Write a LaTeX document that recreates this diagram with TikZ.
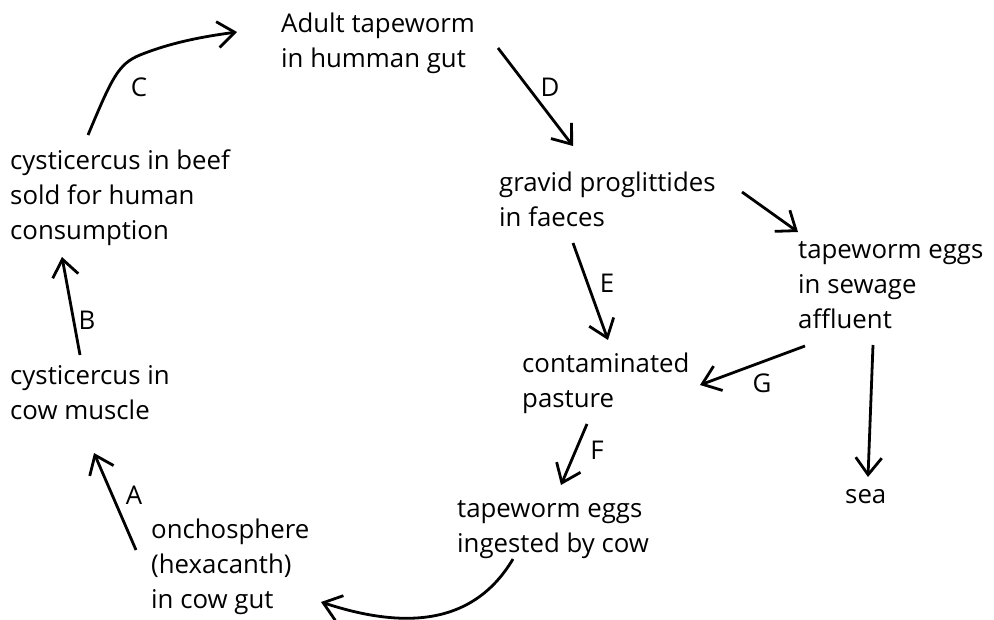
\documentclass[tikz,border=0pt]{standalone}
\usepackage{fontspec}
\setmainfont{Open Sans}
\usetikzlibrary{arrows.meta}
\begin{document}
\begin{tikzpicture}[x=1pt,y=-1pt,
  txt/.style={inner sep=0pt,anchor=base west,align=left,
    font=\fontsize{25.8}{35}\selectfont},
  lab/.style={inner sep=0pt,font=\fontsize{25.8}{30}\selectfont},
  arr/.style={line width=2.8pt,
    -{Straight Barb[length=17pt,width=26pt,line width=2.8pt]}}]
\useasboundingbox (0,0) rectangle (994,620);
% text nodes (anchor = baseline of the last line)
\node[txt] (adult) at (281,68) {Adult tapeworm\\in humman gut};
\node[txt] (beef) at (10,240) {cysticercus in beef\\sold for human\\consumption};
\node[txt] (gravid) at (499,227) {gravid proglittides\\in faeces};
\node[txt] (sewage) at (798,329) {tapeworm eggs\\in sewage\\affluent};
\node[txt] (pasture) at (522,407) {contaminated\\pasture};
\node[txt] (muscle) at (10,420) {cysticercus in\\cow muscle};
\node[txt] (sea) at (845,503) {sea};
\node[txt] (ingested) at (457,552) {tapeworm eggs\\ingested by cow};
\node[txt] (oncho) at (151,608) {onchosphere\\(hexacanth)\\in cow gut};
% labels
\node[lab] (lC) at (139,87) {C};
\node[lab] (lD) at (550,87) {D};
\node[lab] (lE) at (607,283) {E};
\node[lab] (lB) at (87,320) {B};
\node[lab] (lG) at (762,383) {G};
\node[lab] (lF) at (597,450) {F};
\node[lab] (lA) at (134,495) {A};
% connector end points
\coordinate (beefTop) at (88,135);
\coordinate (adultIn) at (237,32);
\coordinate (adultOut) at (498,48);
\coordinate (gravidIn) at (573,146);
\coordinate (gravidOutE) at (573,243);
\coordinate (pastureInE) at (608,340);
\coordinate (gravidOutR) at (742,192);
\coordinate (sewageIn) at (798,232);
\coordinate (sewageOutG) at (805,346);
\coordinate (pastureInG) at (700,385);
\coordinate (sewageOutS) at (873,345);
\coordinate (seaIn) at (868,477);
\coordinate (pastureOut) at (587,424);
\coordinate (ingestedIn) at (561,485);
\coordinate (ingestedOut) at (513,559);
\coordinate (onchoIn) at (321,602);
\coordinate (onchoOut) at (136,550);
\coordinate (muscleIn) at (94,453);
\coordinate (muscleOut) at (80,355);
\coordinate (beefIn) at (62,257);
% connectors
\draw[arr] (beefTop) .. controls (112,78) and (118,64) .. (140,55)
   .. controls (170,43) and (200,37) .. (adultIn);
\draw[arr] (adultOut) -- (gravidIn);
\draw[arr] (gravidOutE) -- (pastureInE);
\draw[arr] (gravidOutR) -- (sewageIn);
\draw[arr] (sewageOutG) -- (pastureInG);
\draw[arr] (sewageOutS) -- (seaIn);
\draw[arr] (pastureOut) -- (ingestedIn);
\draw[arr] (ingestedOut) .. controls (472,628) and (400,628) .. (onchoIn);
\draw[arr] (onchoOut) -- (muscleIn);
\draw[arr] (muscleOut) -- (beefIn);
\end{tikzpicture}
\end{document}
